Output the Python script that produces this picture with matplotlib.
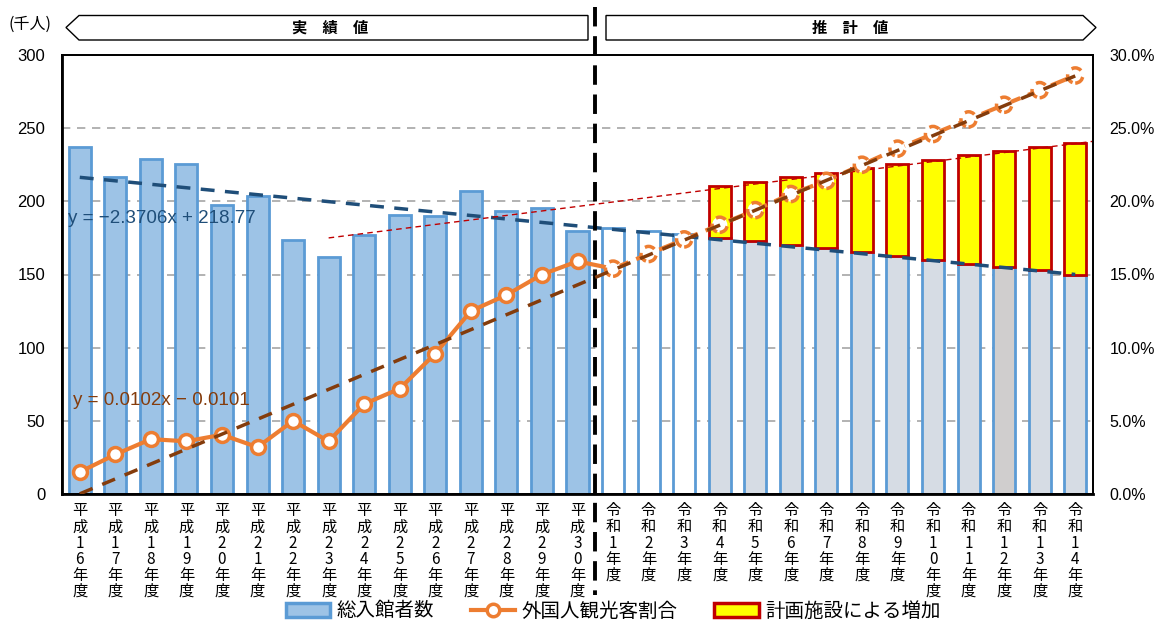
import numpy as np
import matplotlib
matplotlib.use("Agg")
from matplotlib import pyplot as plt
from matplotlib.patches import Polygon, Patch
from matplotlib.lines import Line2D
import matplotlib.transforms as mtransforms

plt.rcParams['font.family'] = ['Liberation Sans', 'Noto Sans CJK JP', 'DejaVu Sans']

# ====================== data ======================
heisei_labels = ['平成16年度', '平成17年度', '平成18年度', '平成19年度', '平成20年度',
                 '平成21年度', '平成22年度', '平成23年度', '平成24年度', '平成25年度',
                 '平成26年度', '平成27年度', '平成28年度', '平成29年度', '平成30年度']
reiwa_labels = ['令和1年度', '令和2年度', '令和3年度', '令和4年度', '令和5年度',
                '令和6年度', '令和7年度', '令和8年度', '令和9年度', '令和10年度',
                '令和11年度', '令和12年度', '令和13年度', '令和14年度']

# 総入館者数 (千人)
visitors_actual = [237, 216.5, 229, 225.5, 197.5, 203.5, 173.5, 162, 177, 190.5,
                   190, 207, 193.5, 195.5, 180]
visitors_est = [182, 180, 178, 175, 173, 170, 168, 165.5, 162.5, 160, 157, 155, 153, 150]
# 計画施設による増加 (千人)
plan_increase = [0, 0, 0, 35.5, 40.5, 46.5, 51.5, 57, 63, 68.5, 74.5, 79.5, 84, 90]

# 外国人観光客割合 (%)
ratio_actual = [1.5, 2.7, 3.75, 3.6, 4.05, 3.2, 5.0, 3.6, 6.15, 7.2, 9.6, 12.5, 13.6, 15.0, 15.9]
ratio_est = [15.4, 16.4, 17.4, 18.4, 19.4, 20.5, 21.4, 22.5, 23.6, 24.6, 25.6, 26.6, 27.6, 28.6]

# trend lines
visitors_trend = (-2.3706, 218.77)
ratio_trend = (0.0102, -0.0101)
total_trend_x = [8, 29.5]
total_trend_y = [175, 241]

# ====================== figure ======================
W, H = 1161, 621
fig = plt.figure(figsize=(W / 100, H / 100), dpi=100)


def px(x, y):
    return (x / W, 1 - y / H)


ax = fig.add_axes([62 / W, 1 - 494 / H, (1093 - 62) / W, 439 / H])
ax2 = ax.twinx()

labels = heisei_labels + reiwa_labels
n_h = len(heisei_labels)
n = len(labels)
x_h = np.arange(n_h)
x_r = np.arange(n_h, n)
bw = 0.62

# bars
ax.bar(x_h, visitors_actual, bw, color='#9DC3E6', edgecolor='#5B9BD5', linewidth=2, zorder=2)
est_fill = ['white'] * 3 + ['#D6DCE4'] * 8 + ['#D0CECE'] + ['#D6DCE4'] * 2
ax.bar(x_r, visitors_est, bw, color=est_fill, edgecolor='#5B9BD5', linewidth=2, zorder=2)
inc = np.array(plan_increase)
mask = inc > 0
ax.bar(x_r[mask], inc[mask], bw, bottom=np.array(visitors_est)[mask], color='#FFFF00',
       edgecolor='#C00000', linewidth=2, zorder=2)

# trend lines on the visitors axis
xt = np.arange(1, n + 1)
ax.plot(xt - 1, visitors_trend[0] * xt + visitors_trend[1], color='#1F4E79', lw=2.5,
        dashes=(4, 3), zorder=3)
ax.plot(np.array(total_trend_x) - 1, total_trend_y, color='#C00000', lw=1, dashes=(4, 3), zorder=3)

ax.set_xlim(-0.5, n - 0.5)
ax.set_ylim(0, 300)
ax.set_yticks(np.arange(0, 301, 50))
ax.yaxis.grid(True, color='#A6A6A6', linestyle=(0, (5, 4)), linewidth=1.2)
ax.set_axisbelow(True)
ax.set_xticks(np.arange(n))
ax.set_xticklabels(['\n'.join(lbl) for lbl in labels], fontsize=11,
                   family=['Noto Sans CJK JP'], linespacing=0.93, va='top')
ax.tick_params(axis='x', length=0, pad=6)
ax.tick_params(axis='y', length=0, labelsize=12, pad=12)

# ratio line
ax2.plot(list(x_h) + [x_r[0]], ratio_actual + [ratio_est[0]], color='#ED7D31', lw=3, zorder=3)
ax2.plot(x_h, ratio_actual, 'o', ms=10, mfc='white', mec='#ED7D31', mew=2.5, zorder=4)
ax2.plot(x_r, ratio_est, color='#ED7D31', lw=3, dashes=(4, 2), zorder=3)
ax2.scatter(x_r, ratio_est, s=120, facecolor='white', edgecolor='#ED7D31', linewidths=2.5,
            linestyles=(0, (3, 2)), zorder=4)
ax2.plot(xt - 1, (ratio_trend[0] * xt + ratio_trend[1]) * 100, color='#843C0C', lw=2.5,
         dashes=(4, 3), zorder=5)
ax2.set_ylim(0, 30)
ax2.set_yticks(np.arange(0, 31, 5))
ax2.set_yticklabels([f'{v:.1f}%' for v in np.arange(0, 31, 5)])
ax2.tick_params(axis='y', length=0, labelsize=11.5, pad=12)

for a in (ax, ax2):
    for s in a.spines.values():
        s.set_color('black')
        s.set_linewidth(1.3)
ax.spines['left'].set_linewidth(2)
ax.spines['bottom'].set_linewidth(2)

# trend equations
ax.text(0.006, 0.627, 'y = −2.3706x + 218.77', transform=ax.transAxes, color='#1F4E79',
        fontsize=13.5, va='center')
ax.text(0.011, 0.214, 'y = 0.0102x − 0.0101', transform=ax.transAxes, color='#843C0C',
        fontsize=13.5, va='center')

# divider between actual and estimate
trans = mtransforms.blended_transform_factory(ax.transData, ax.transAxes)
ax.plot([n_h - 0.5, n_h - 0.5], [1.11, -0.23], transform=trans, color='black', lw=2.8,
        dashes=(5, 2.5), clip_on=False, zorder=6)

# header arrows
left_box = Polygon([px(66, 27.5), px(79, 15.5), px(588, 15.5), px(588, 40), px(79, 40)],
                   closed=True, transform=fig.transFigure, facecolor='white',
                   edgecolor='black', lw=1)
right_box = Polygon([px(606, 15.5), px(1083, 15.5), px(1096, 27.5), px(1083, 40), px(606, 40)],
                    closed=True, transform=fig.transFigure, facecolor='white',
                    edgecolor='black', lw=1)
fig.patches.extend([left_box, right_box])
fig.text(*px(330, 27.5), '実　績　値', ha='center', va='center', fontsize=11,
         fontweight='bold', family=['Noto Sans CJK JP'])
fig.text(*px(850, 27.5), '推　計　値', ha='center', va='center', fontsize=11,
         fontweight='bold', family=['Noto Sans CJK JP'])
fig.text(*px(8, 24), '(千人)', ha='left', va='center', fontsize=11.5,
         family=['Noto Sans CJK JP'])

# legend
handles = [Patch(facecolor='#9DC3E6', edgecolor='#5B9BD5', linewidth=2.5),
           Line2D([], [], color='#ED7D31', lw=3, marker='o', ms=9, mfc='white',
                  mec='#ED7D31', mew=2.5),
           Patch(facecolor='#FFFF00', edgecolor='#C00000', linewidth=2.5)]
fig.legend(handles, ['総入館者数', '外国人観光客割合', '計画施設による増加'],
           loc='center', bbox_to_anchor=px(613, 611), ncol=3, frameon=False,
           prop={'family': ['Noto Sans CJK JP'], 'size': 14}, handlelength=2.3,
           handleheight=0.7, columnspacing=1.9, handletextpad=0.3, borderpad=0)

fig.savefig('out.png', dpi=100)
